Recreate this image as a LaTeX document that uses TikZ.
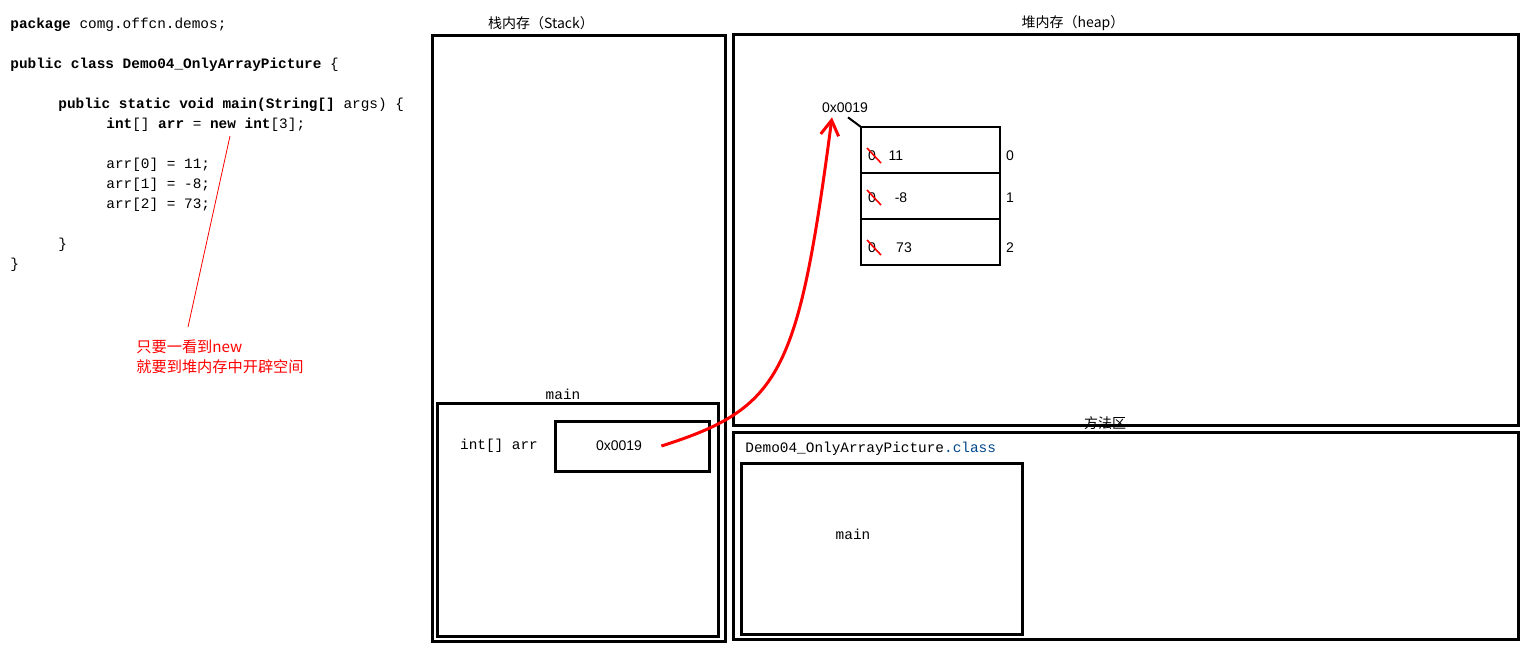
\documentclass[tikz,border=0pt]{standalone}
\usepackage{fontspec}
\setmainfont{Liberation Sans}
\setmonofont{Liberation Mono}
\newfontfamily\cjk{Noto Sans CJK SC}
\usetikzlibrary{arrows.meta,positioning,calc}
\definecolor{classblue}{RGB}{0,70,140}
\tikzset{ %all sizes in pt, positions in pixels
  {memory/.style} ={draw, line width=1.5pt, inner sep=0, outer sep=0,
                  anchor=north west},
  {cell/.style} ={draw, line width=1pt, inner sep=0, outer sep=0,
                  minimum width=69.5pt, minimum height=23pt},
  {code/.style} ={anchor=west, inner sep=0,
                  font=\ttfamily\fontsize{7.2}{8}\selectfont},
  {title/.style} ={inner sep=0, font=\cjk\fontsize{7}{8}\selectfont},
  {addr/.style} ={inner sep=0, font=\fontsize{7}{8}\selectfont},
  {note/.style} ={anchor=west, inner sep=0, red,
                  font=\cjk\fontsize{7.6}{9}\selectfont},
  {strike/.style} ={red, line width=0.8pt},
  {pointer/.style} ={red, line width=1.5pt,
                  -{Straight Barb[length=7.5pt,width=9pt]}},
 }
\begin{document}
\begin{tikzpicture}[x=0.5pt, y=-0.5pt]
\useasboundingbox (0,0) rectangle (1538,655);

% source code
\node[code] (pkg) at (10,25) {\textbf{package} comg.offcn.demos;};
\node[code] (cls) at (10,65) {\textbf{public class Demo04\_OnlyArrayPicture} \{};
\node[code] (mth) at (58,105) {\textbf{public static void main(String[]} args) \{};
\node[code] (decl) at (106,125) {\textbf{int}[] \textbf{arr} = \textbf{new int}[3];};
\node[code] (set0) at (106,165) {arr[0] = 11;};
\node[code] (set1) at (106,185) {arr[1] = -8;};
\node[code] (set2) at (106,205) {arr[2] = 73;};
\node[code] (endm) at (58,245) {\}};
\node[code] (endc) at (10,265) {\}};

% remark on new
\coordinate (newkw) at (230,136);
\coordinate (remtip) at (188,327);
\draw[red, thin] (newkw) -- (remtip);
\node[note] (rem1) at (136,347) {只要一看到new};
\node[note] (rem2) at (136,367) {就要到堆内存中开辟空间};

% stack
\node[title] (stacktitle) at (541,23) {栈内存（Stack）};
\node[memory, minimum width=146.5pt, minimum height=303pt] (stack) at (432,35) {};
\node[memory, minimum width=140.5pt, minimum height=116.5pt] (frame) at (437,403) {};
\node[code, anchor=center] (frametitle) at (563,394) {main};
\node[memory, minimum width=77pt, minimum height=25pt] (slot) at (555,421) {};
\node[code, anchor=center] (var) at (499,446) {int[] arr};
\node[addr] (ref) at (619,446) {0x0019};

% heap
\node[title] (heaptitle) at (1073,23) {堆内存（heap）};
\node[title] (methodtitle) at (1105,423) {方法区};
\node[memory, minimum width=392.5pt, minimum height=195.5pt] (heap) at (733,34) {};
\node[addr] (base) at (845,108) {0x0019};
\node[cell, anchor=north west] (c0) at (861,127) {};
\node[cell, below=0pt of c0] (c1) {};
\node[cell, below=0pt of c1] (c2) {};
\foreach \i/\v/\dx/\dy in {0/11/35/6, 1/-8/40/2, 2/73/43/6}{
  \node[addr] (zero\i) at ($(c\i.west)+(11,\dy)$) {0};
  \draw[strike] ($(zero\i)+(-5,-8)$) -- ($(zero\i)+(9,7)$);
  \node[addr] (val\i) at ($(c\i.west)+(\dx,\dy)$) {\v};
  \node[addr] (idx\i) at ($(c\i.east)+(10,\dy)$) {\i};
}
\draw[line width=1pt] ([xshift=1.5pt,yshift=-2pt]base.south) -- (c0.north west);

% method area
\node[memory, minimum width=392.5pt, minimum height=103.5pt] (method) at (733,432) {};
\node[code] (classname) at (745,449) {Demo04\_OnlyArrayPicture\textcolor{classblue}{.class}};
\node[memory, minimum width=140.5pt, minimum height=85.5pt] (codearea) at (741,463) {};
\node[code, anchor=center] (classmain) at (853,534) {main};

% reference to the array
\draw[pointer] ([xshift=9.5pt]ref.east) .. controls (781,408) and (798,375)
  .. ([xshift=-6.5pt,yshift=-2pt]base.south);
\end{tikzpicture}
\end{document}
